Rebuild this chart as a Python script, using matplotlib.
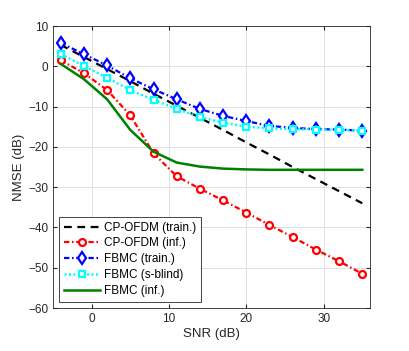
import matplotlib
matplotlib.use("Agg")
import matplotlib.pyplot as plt

plt.rcParams['font.family'] = ['Liberation Sans', 'DejaVu Sans']

snr = [-4, -1, 2, 5, 8, 11, 14, 17, 20, 23, 26, 29, 32, 35]
cp_train = [5.3, 2.3, -0.7, -3.7, -6.8, -9.8, -12.8, -15.8, -18.9, -21.9, -25.0, -28.0, -31.0, -34.0]
cp_inf = [1.5, -1.7, -5.9, -12.2, -21.6, -27.3, -30.4, -33.3, -36.3, -39.4, -42.4, -45.5, -48.4, -51.5]
fbmc_train = [5.8, 3.0, 0.2, -3.0, -5.7, -8.2, -10.6, -12.3, -13.6, -14.8, -15.3, -15.6, -15.7, -16.0]
fbmc_sblind = [3.0, 0.1, -2.9, -5.9, -8.3, -10.6, -12.6, -14.0, -15.0, -15.4, -15.6, -15.7, -15.8, -16.0]
fbmc_inf = [0.6, -3.2, -8.2, -15.8, -21.2, -23.9, -24.9, -25.4, -25.6, -25.7, -25.7, -25.7, -25.7, -25.7]

xticks = [0, 10, 20, 30]
yticks = [-60, -50, -40, -30, -20, -10, 0, 10]

dashdot = (0, (2.4, 1.2, 0.7, 1.2))

fig = plt.figure(figsize=(4.09, 3.51), dpi=100)
ax = fig.add_axes([53/409, 1 - 308/351, (370-53)/409, (308-26)/351])

ax.plot(snr, cp_train, color='black', linestyle=(0, (3.5, 2.5)), linewidth=1.6, label='CP-OFDM (train.)')
ax.plot(snr, cp_inf, color='red', linestyle=dashdot, linewidth=1.6, marker='o', markersize=5,
        markerfacecolor='white', markeredgewidth=1.6, label='CP-OFDM (inf.)')
ax.plot(snr, fbmc_train, color='blue', linestyle=dashdot, linewidth=1.6, marker='d', markersize=6,
        markerfacecolor='white', markeredgewidth=1.6, label='FBMC (train.)')
ax.plot(snr, fbmc_sblind, color='cyan', linestyle=(0, (0.8, 1.0)), linewidth=1.8, marker='s', markersize=4.5,
        markerfacecolor='white', markeredgewidth=1.6, label='FBMC (s-blind)')
ax.plot(snr, fbmc_inf, color='green', linestyle='-', linewidth=1.8, label='FBMC (inf.)')

ax.set_xlim(-5, 36)
ax.set_ylim(-60, 10)
ax.set_xticks(xticks)
ax.set_yticks(yticks)
ax.grid(True, color='#e0e0e0', linewidth=0.7)
ax.set_axisbelow(True)
ax.tick_params(direction='in', top=True, right=True, labelsize=8.5, colors='#262626', length=3)
for s in ax.spines.values():
    s.set_color('#262626')
    s.set_linewidth(0.6)
ax.set_xlabel('SNR (dB)', fontsize=9.5, color='#262626', labelpad=2)
ax.set_ylabel('NMSE (dB)', fontsize=9.5, color='#262626', labelpad=2)

leg = ax.legend(loc='lower left', fontsize=8.5, handlelength=3.0, borderaxespad=0.55,
                fancybox=False, edgecolor='#262626', framealpha=1, labelspacing=0.32,
                handletextpad=0.4, borderpad=0.4)
leg.get_frame().set_linewidth(0.6)

fig.savefig('out.png', dpi=100)
